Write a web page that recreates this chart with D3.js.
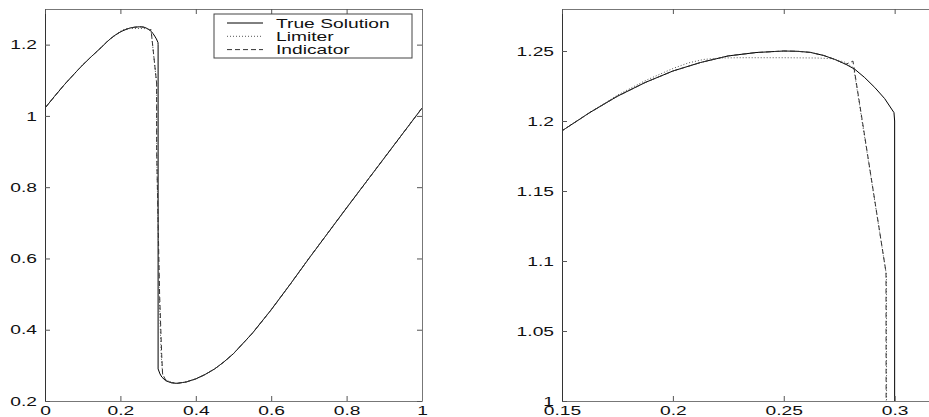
<!DOCTYPE html>
<html>
<head>
<meta charset="utf-8">
<script src="https://cdn.jsdelivr.net/npm/d3@7"></script>
<style>
  body { margin: 0; background: #fff; }
  svg { display: block; }
</style>
</head>
<body>
<svg id="fig" width="929" height="417"></svg>
<script>
// --- data ---
const seriesNames = ["True Solution", "Limiter", "Indicator"];

const trueX = [0, 0.025, 0.05, 0.075, 0.1, 0.125, 0.15, 0.1625, 0.175, 0.1875, 0.2, 0.2125, 0.225, 0.2375, 0.25,
               0.256, 0.262, 0.268, 0.273, 0.278, 0.282, 0.2865, 0.291, 0.2955, 0.2997, 0.3, 0.3,
               0.305, 0.31, 0.32, 0.335, 0.35, 0.375, 0.4, 0.425, 0.45, 0.475, 0.5, 0.55, 0.6, 0.65, 0.7, 0.8, 0.9, 1.0];
const trueY = [1.022, 1.0545, 1.086, 1.115, 1.143, 1.1685, 1.193, 1.206, 1.2177, 1.2275, 1.2357, 1.2418, 1.2465, 1.2489, 1.25,
               1.2498, 1.249, 1.2468, 1.244, 1.2405, 1.237, 1.231, 1.224, 1.216, 1.206, 1.2, 0.29,
               0.276, 0.267, 0.257, 0.251, 0.2495, 0.2535, 0.262, 0.2745, 0.29, 0.31, 0.333, 0.39, 0.456, 0.527, 0.6, 0.742, 0.882, 1.022];

const limiterX = [0, 0.025, 0.05, 0.075, 0.1, 0.125, 0.15, 0.1625, 0.175, 0.1875, 0.2, 0.207, 0.214, 0.222, 0.23, 0.25,
                  0.265, 0.272, 0.2775, 0.2815, 0.2963, 0.2964, 0.303, 0.308, 0.312, 0.32, 0.335,
                  0.35, 0.375, 0.4, 0.425, 0.45, 0.475, 0.5, 0.55, 0.6, 0.65, 0.7, 0.8, 0.9, 1.0];
const limiterY = [1.022, 1.0545, 1.086, 1.115, 1.143, 1.1685, 1.193, 1.206, 1.2185, 1.2288, 1.2375, 1.2415, 1.244, 1.245, 1.2452, 1.2452,
                  1.245, 1.2445, 1.242, 1.238, 1.09, 0.9, 0.5, 0.33, 0.275, 0.26, 0.252,
                  0.2495, 0.2535, 0.262, 0.2745, 0.29, 0.31, 0.333, 0.39, 0.456, 0.527, 0.6, 0.742, 0.882, 1.022];

const indicatorX = [0, 0.025, 0.05, 0.075, 0.1, 0.125, 0.15, 0.1625, 0.175, 0.1875, 0.2, 0.2125, 0.225, 0.2375, 0.25,
                    0.256, 0.262, 0.268, 0.273, 0.278, 0.2812, 0.2961, 0.2962, 0.304, 0.3095, 0.312, 0.32, 0.335,
                    0.35, 0.375, 0.4, 0.425, 0.45, 0.475, 0.5, 0.55, 0.6, 0.65, 0.7, 0.8, 0.9, 1.0];
const indicatorY = [1.022, 1.0545, 1.086, 1.115, 1.143, 1.1685, 1.193, 1.206, 1.2177, 1.2275, 1.2357, 1.2418, 1.2465, 1.2489, 1.25,
                    1.2498, 1.249, 1.2468, 1.244, 1.2405, 1.2428, 1.092, 0.9, 0.5, 0.33, 0.275, 0.259, 0.252,
                    0.2495, 0.2535, 0.262, 0.2745, 0.29, 0.31, 0.333, 0.39, 0.456, 0.527, 0.6, 0.742, 0.882, 1.022];

const leftXTicks = [0, 0.2, 0.4, 0.6, 0.8, 1];
const leftYTicks = [0.2, 0.4, 0.6, 0.8, 1, 1.2];
const rightXTicks = [0.15, 0.2, 0.25, 0.3];
const rightYTicks = [1, 1.05, 1.1, 1.15, 1.2, 1.25];

const zip = (xs, ys) => xs.map((x, i) => [x, ys[i]]);
const series = [
  { name: seriesNames[0], pts: zip(trueX, trueY), stroke: "#000", dash: null, width: 1 },
  { name: seriesNames[1], pts: zip(limiterX, limiterY), stroke: "#555", dash: "1,2", width: 1 },
  { name: seriesNames[2], pts: zip(indicatorX, indicatorY), stroke: "#333", dash: "5,3", width: 1 }
];

const STRETCH = 1.48; // old matlab fonts come out wide
const FONT = "'Liberation Sans', Arial, sans-serif";

class Panel {
  constructor(_config) {
    this.config = _config;
    this.initVis();
  }
  initVis() {
    let vis = this;
    const c = vis.config;
    vis.svg = d3.select("#fig");
    vis.g = vis.svg.append("g").attr("transform", `translate(${c.left},${c.top})`);

    vis.x = d3.scaleLinear().domain(c.xDomain).range([0, c.width]);
    vis.y = d3.scaleLinear().domain(c.yDomain).range([c.height, 0]);

    vis.svg.append("clipPath").attr("id", c.id + "-clip")
      .append("rect").attr("width", c.width).attr("height", c.height);

    // curves
    const line = d3.line().x(d => vis.x(d[0])).y(d => vis.y(d[1]));
    const plot = vis.g.append("g").attr("clip-path", `url(#${c.id}-clip)`);
    plot.selectAll("path")
      .data(series)
      .join("path")
        .attr("d", d => line(d.pts))
        .attr("fill", "none")
        .attr("stroke", d => d.stroke)
        .attr("stroke-width", d => d.width)
        .attr("stroke-dasharray", d => d.dash);

    // axes, ticks point inward on all four sides
    const fmt = d => String(d);
    const bottom = vis.g.append("g").attr("transform", `translate(0,${c.height})`)
      .call(d3.axisBottom(vis.x).tickValues(c.xTicks).tickFormat(fmt).tickSizeInner(-5).tickSizeOuter(0).tickPadding(5));
    const left = vis.g.append("g")
      .call(d3.axisLeft(vis.y).tickValues(c.yTicks).tickFormat(fmt).tickSizeInner(-5).tickSizeOuter(0).tickPadding(8 / STRETCH));
    vis.g.append("g")
      .call(d3.axisTop(vis.x).tickValues(c.xTicks).tickFormat("").tickSizeInner(-5).tickSizeOuter(0));
    vis.g.append("g").attr("transform", `translate(${c.width},0)`)
      .call(d3.axisRight(vis.y).tickValues(c.yTicks).tickFormat("").tickSizeInner(-5).tickSizeOuter(0));

    vis.g.selectAll(".domain").attr("stroke", "#777");
    vis.g.selectAll(".tick line").attr("stroke", "#555");
    left.select(".domain").attr("stroke", "#333");
    [bottom, left].forEach(a => a.selectAll("text")
      .attr("fill", "#111")
      .attr("transform", `scale(${STRETCH},1)`)
      .style("font-family", FONT)
      .style("font-size", "13px"));

    if (c.legend) vis.drawLegend();
  }
  drawLegend() {
    let vis = this;
    const lg = vis.g.append("g").attr("transform", "translate(169,5)");
    lg.append("rect").attr("width", 198).attr("height", 44)
      .attr("fill", "#fff").attr("stroke", "#444").attr("stroke-width", 1);
    const rows = lg.selectAll(".row").data(series).join("g")
      .attr("class", "row")
      .attr("transform", (d, i) => `translate(0,${9 + i * 13.3})`);
    rows.append("line").attr("x1", 13).attr("x2", 49)
      .attr("stroke", d => d.stroke).attr("stroke-dasharray", d => d.dash);
    rows.append("text").text(d => d.name)
      .attr("x", 62 / STRETCH).attr("dy", "0.35em")
      .attr("transform", `scale(${STRETCH},1)`)
      .attr("fill", "#111")
      .style("font-family", FONT)
      .style("font-size", "13px");
  }
}

new Panel({ id: "left", left: 45, top: 9, width: 377, height: 392,
  xDomain: [0, 1], yDomain: [0.2, 1.3], xTicks: leftXTicks, yTicks: leftYTicks, legend: true });
new Panel({ id: "right", left: 562, top: 9, width: 377, height: 392,
  xDomain: [0.15, 0.32], yDomain: [1, 1.28], xTicks: rightXTicks, yTicks: rightYTicks, legend: false });
</script>
</body>
</html>
